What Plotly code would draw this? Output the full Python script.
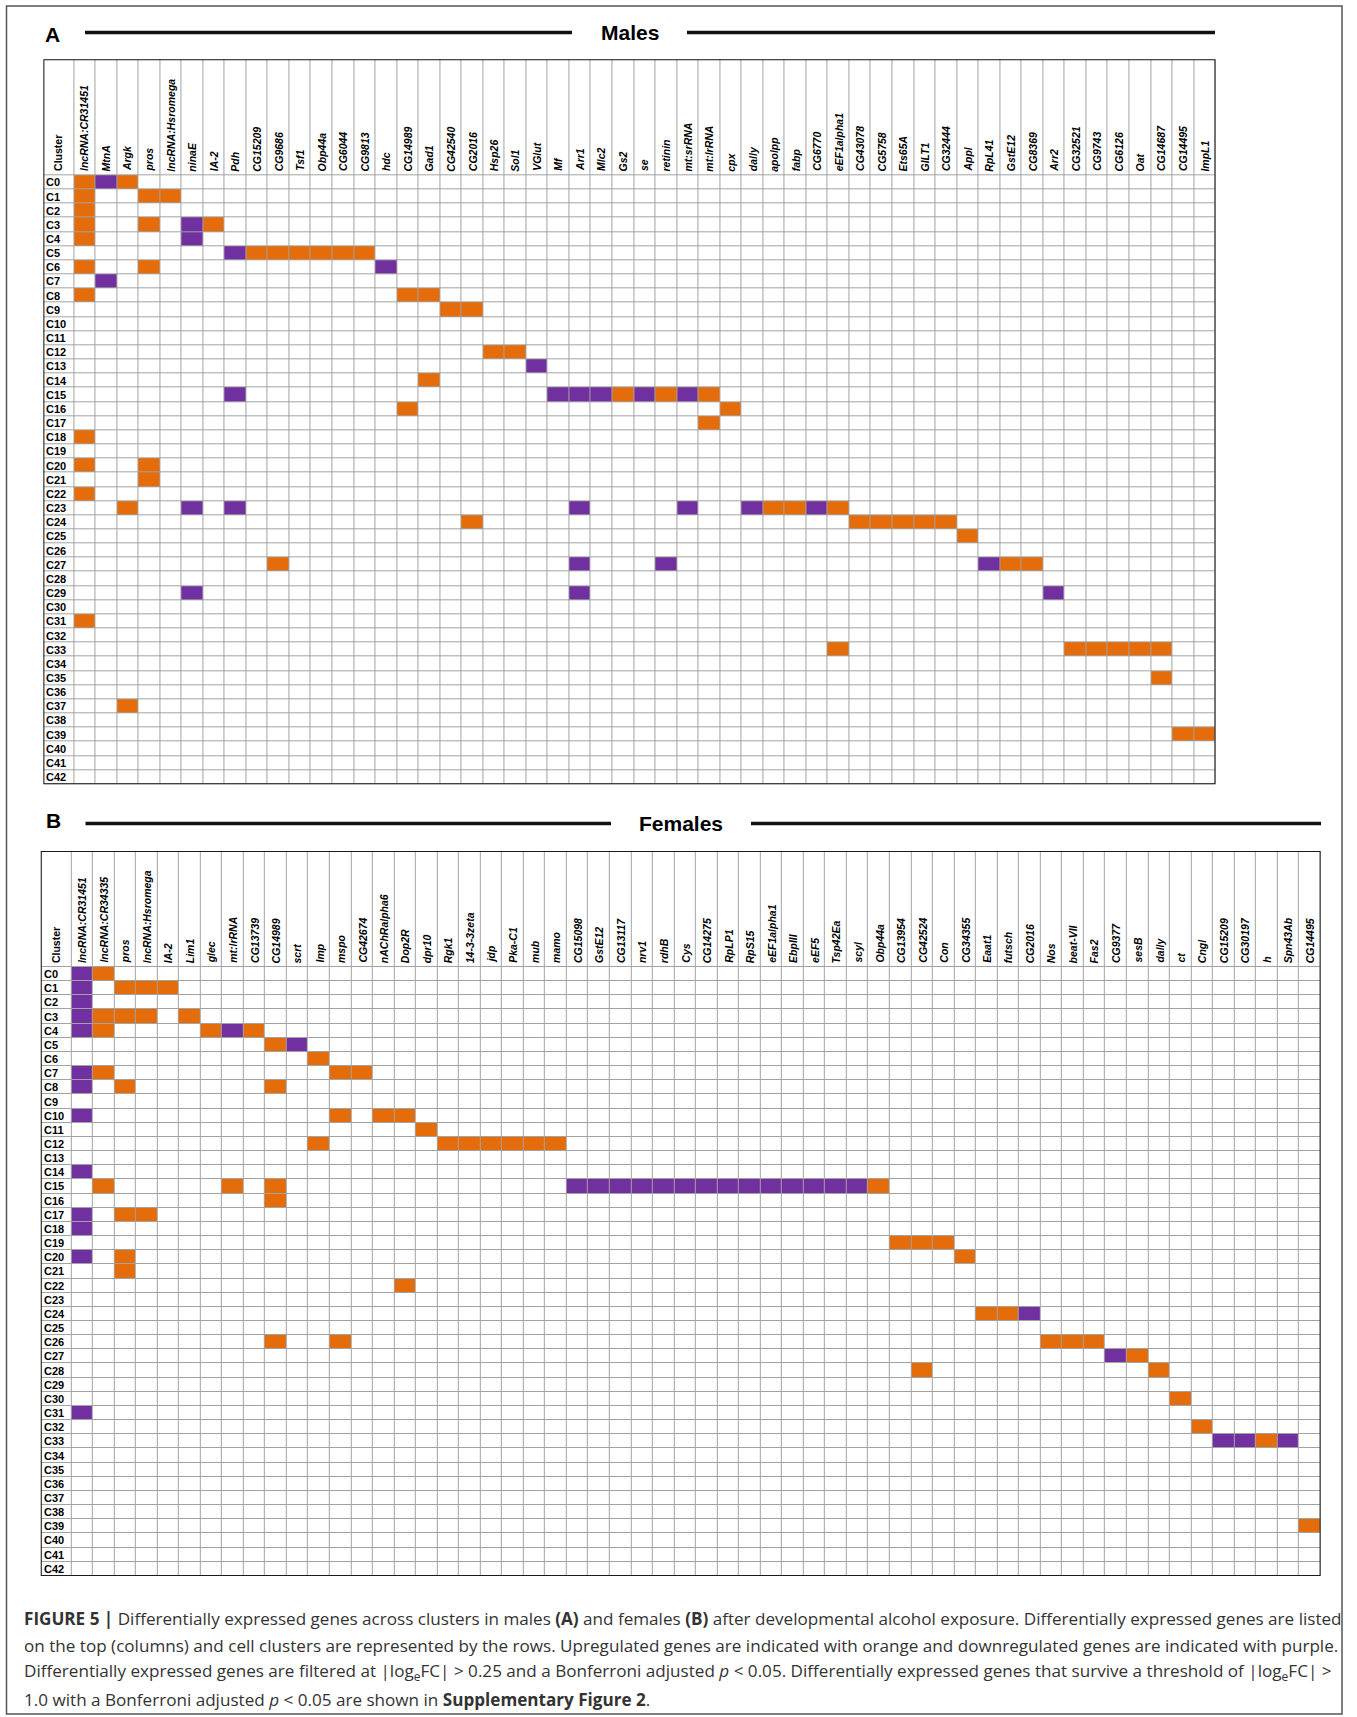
import plotly.graph_objects as go

# ---------------------------------------------------------------- data
clusters = [f"C{i}" for i in range(43)]

male_genes = [
    "lncRNA:CR31451", "MtnA", "Argk", "pros", "lncRNA:Hsromega", "ninaE", "IA-2", "Pdh",
    "CG15209", "CG9686", "Tsf1", "Obp44a", "CG6044", "CG9813", "hdc", "CG14989", "Gad1",
    "CG42540", "CG2016", "Hsp26", "Sol1", "VGlut", "Mf", "Arr1", "Mlc2", "Gs2", "se",
    "retinin", "mt:srRNA", "mt:lrRNA", "cpx", "dally", "apolpp", "fabp", "CG6770",
    "eEF1alpha1", "CG43078", "CG5758", "Ets65A", "GILT1", "CG32444", "Appl", "RpL41",
    "GstE12", "CG8369", "Arr2", "CG32521", "CG9743", "CG6126", "Oat", "CG14687",
    "CG14495", "ImpL1",
]

male_up = {
    "C0": ["lncRNA:CR31451", "Argk"],
    "C1": ["lncRNA:CR31451", "pros", "lncRNA:Hsromega"],
    "C2": ["lncRNA:CR31451"],
    "C3": ["lncRNA:CR31451", "pros", "IA-2"],
    "C4": ["lncRNA:CR31451"],
    "C5": ["CG15209", "CG9686", "Tsf1", "Obp44a", "CG6044", "CG9813"],
    "C6": ["lncRNA:CR31451", "pros"],
    "C8": ["lncRNA:CR31451", "CG14989", "Gad1"],
    "C9": ["CG42540", "CG2016"],
    "C12": ["Hsp26", "Sol1"],
    "C14": ["Gad1"],
    "C15": ["Gs2", "retinin", "mt:lrRNA"],
    "C16": ["CG14989", "cpx"],
    "C17": ["mt:lrRNA"],
    "C18": ["lncRNA:CR31451"],
    "C20": ["lncRNA:CR31451", "pros"],
    "C21": ["pros"],
    "C22": ["lncRNA:CR31451"],
    "C23": ["Argk", "apolpp", "fabp", "eEF1alpha1"],
    "C24": ["CG2016", "CG43078", "CG5758", "Ets65A", "GILT1", "CG32444"],
    "C25": ["Appl"],
    "C27": ["CG9686", "GstE12", "CG8369"],
    "C31": ["lncRNA:CR31451"],
    "C33": ["eEF1alpha1", "CG32521", "CG9743", "CG6126", "Oat", "CG14687"],
    "C35": ["CG14687"],
    "C37": ["Argk"],
    "C39": ["CG14495", "ImpL1"],
}

male_down = {
    "C0": ["MtnA"],
    "C3": ["ninaE"],
    "C4": ["ninaE"],
    "C5": ["Pdh"],
    "C6": ["hdc"],
    "C7": ["MtnA"],
    "C13": ["VGlut"],
    "C15": ["Pdh", "Mf", "Arr1", "Mlc2", "se", "mt:srRNA"],
    "C23": ["ninaE", "Pdh", "Arr1", "mt:srRNA", "dally", "CG6770"],
    "C27": ["Arr1", "retinin", "RpL41"],
    "C29": ["ninaE", "Arr1", "Arr2"],
}

female_genes = [
    "lncRNA:CR31451", "lncRNA:CR34335", "pros", "lncRNA:Hsromega", "IA-2", "Lim1", "glec",
    "mt:lrRNA", "CG13739", "CG14989", "scrt", "Imp", "mspo", "CG42674", "nAChRalpha6",
    "Dop2R", "dpr10", "Rgk1", "14-3-3zeta", "jdp", "Pka-C1", "mub", "mamo", "CG15098",
    "GstE12", "CG13117", "nrv1", "rdhB", "Cys", "CG14275", "RpLP1", "RpS15", "eEF1alpha1",
    "EbpIII", "eEF5", "Tsp42Ea", "scyl", "Obp44a", "CG13954", "CG42524", "Con", "CG34355",
    "Eaat1", "futsch", "CG2016", "Nos", "beat-VII", "Fas2", "CG9377", "sesB", "dally", "ct",
    "Cngl", "CG15209", "CG30197", "h", "Spn43Ab", "CG14495",
]

female_up = {
    "C0": ["lncRNA:CR34335"],
    "C1": ["pros", "lncRNA:Hsromega", "IA-2"],
    "C3": ["lncRNA:CR34335", "pros", "lncRNA:Hsromega", "Lim1"],
    "C4": ["lncRNA:CR34335", "glec", "CG13739"],
    "C5": ["CG14989"],
    "C6": ["Imp"],
    "C7": ["lncRNA:CR34335", "mspo", "CG42674"],
    "C8": ["pros", "CG14989"],
    "C10": ["mspo", "nAChRalpha6", "Dop2R"],
    "C11": ["dpr10"],
    "C12": ["Imp", "Rgk1", "14-3-3zeta", "jdp", "Pka-C1", "mub", "mamo"],
    "C15": ["lncRNA:CR34335", "mt:lrRNA", "CG14989", "Obp44a"],
    "C16": ["CG14989"],
    "C17": ["pros", "lncRNA:Hsromega"],
    "C19": ["CG13954", "CG42524", "Con"],
    "C20": ["pros", "CG34355"],
    "C21": ["pros"],
    "C22": ["Dop2R"],
    "C24": ["Eaat1", "futsch"],
    "C26": ["CG14989", "mspo", "Nos", "beat-VII", "Fas2"],
    "C27": ["sesB"],
    "C28": ["CG42524", "dally"],
    "C30": ["ct"],
    "C32": ["Cngl"],
    "C33": ["h"],
    "C39": ["CG14495"],
}

female_down = {
    "C0": ["lncRNA:CR31451"],
    "C1": ["lncRNA:CR31451"],
    "C2": ["lncRNA:CR31451"],
    "C3": ["lncRNA:CR31451"],
    "C4": ["lncRNA:CR31451", "mt:lrRNA"],
    "C5": ["scrt"],
    "C7": ["lncRNA:CR31451"],
    "C8": ["lncRNA:CR31451"],
    "C10": ["lncRNA:CR31451"],
    "C14": ["lncRNA:CR31451"],
    "C15": ["CG15098", "GstE12", "CG13117", "nrv1", "rdhB", "Cys", "CG14275", "RpLP1",
            "RpS15", "eEF1alpha1", "EbpIII", "eEF5", "Tsp42Ea", "scyl"],
    "C17": ["lncRNA:CR31451"],
    "C18": ["lncRNA:CR31451"],
    "C20": ["lncRNA:CR31451"],
    "C24": ["CG2016"],
    "C27": ["CG9377"],
    "C31": ["lncRNA:CR31451"],
    "C33": ["CG15209", "CG30197", "Spn43Ab"],
}

caption_lines = [
    "<b>FIGURE 5 |</b> Differentially expressed genes across clusters in males <b>(A)</b> and "
    "females <b>(B)</b> after developmental alcohol exposure. Differentially expressed genes are listed",
    "on the top (columns) and cell clusters are represented by the rows. Upregulated genes are "
    "indicated with orange and downregulated genes are indicated with purple.",
    "Differentially expressed genes are filtered at |log<sub>e</sub>FC| &gt; 0.25 and a Bonferroni "
    "adjusted <i>p</i> &lt; 0.05. Differentially expressed genes that survive a threshold of "
    "|log<sub>e</sub>FC| &gt;",
    "1.0 with a Bonferroni adjusted <i>p</i> &lt; 0.05 are shown in <b>Supplementary Figure 2</b>.",
]

# ---------------------------------------------------------------- styling
W, H = 1357, 1717
CELL_W = 21.54      # px per gene column
ROW_H = 14.16       # px per cluster row
CLUSTER_W = 30.5    # px of the "Cluster" column
HEADER_H = 116.0    # px of the gene-name header row
ORANGE = "#E46C0A"
PURPLE = "#7030A0"
GRID = "#a2a2a2"
FONT = "Liberation Sans, Arial, sans-serif"
CAPTION_FONT = "Open Sans, Noto Sans, sans-serif"

cw = CLUSTER_W / CELL_W   # cluster column width in column units
hh = HEADER_H / ROW_H     # header height in row units


def build_z(genes, up, down):
    z = [[0] * (len(genes) + 1) for _ in range(len(clusters) + 1)]
    for sign, table in ((1, up), (-1, down)):
        for cl, gl in table.items():
            r = clusters.index(cl) + 1
            for g in gl:
                z[r][genes.index(g) + 1] = sign
    return z


fig = go.Figure()
annotations = []
shapes = []

panels = [
    # genes, up, down, left px, top px, letter, title, rule/title x px, title y px, letter x/y px
    (male_genes, male_up, male_down, 43.4, 59.3, "A", "Males", (85, 572, 630, 687, 1215), 32.5, (52, 35)),
    (female_genes, female_up, female_down, 40.8, 851.0, "B", "Females", (85.5, 611, 681, 751, 1321), 823.5, (53.5, 821)),
]

colorscale = [[0.0, PURPLE], [0.333, PURPLE], [0.333, "white"], [0.667, "white"],
              [0.667, ORANGE], [1.0, ORANGE]]

for k, (genes, up, down, left, top, letter, title, tl, ty, lpos) in enumerate(panels):
    n = len(genes)
    sfx = "" if k == 0 else str(k + 1)
    xref, yref = "x" + sfx, "y" + sfx
    x_edges = [-0.5 - cw] + [i - 0.5 for i in range(n + 1)]
    y_edges = [-0.5 - hh] + [i - 0.5 for i in range(len(clusters) + 1)]

    fig.add_trace(go.Heatmap(
        z=build_z(genes, up, down), x=x_edges, y=y_edges,
        zmin=-1, zmax=1, colorscale=colorscale, showscale=False,
        xgap=1, ygap=1, hoverinfo="skip", xaxis=xref, yaxis=yref,
    ))

    right = left + CLUSTER_W + n * CELL_W
    bottom = top + HEADER_H + len(clusters) * ROW_H
    ax_common = dict(showgrid=False, zeroline=False, showticklabels=False, ticks="",
                     showline=False, fixedrange=True)
    fig.layout["xaxis" + sfx] = dict(domain=[left / W, right / W],
                                     range=[x_edges[0], x_edges[-1]], anchor=yref, **ax_common)
    fig.layout["yaxis" + sfx] = dict(domain=[1 - bottom / H, 1 - top / H],
                                     range=[y_edges[-1], y_edges[0]], anchor=xref, **ax_common)

    # table border
    shapes.append(dict(type="rect", xref=xref, yref=yref, x0=x_edges[0], x1=x_edges[-1],
                       y0=y_edges[0], y1=y_edges[-1], line=dict(color="#1a1a1a", width=2),
                       layer="above"))

    # gene names (rotated, reading upward)
    for i, g in enumerate(genes):
        annotations.append(dict(x=i, y=-0.5, xref=xref, yref=yref, text=g, textangle=-90,
                                showarrow=False, xanchor="center", yanchor="bottom", yshift=2,
                                font=dict(family=FONT, size=10.5, color="black",
                                          weight="bold", style="italic")))
    annotations.append(dict(x=-0.5 - cw / 2, y=-0.5, xref=xref, yref=yref, text="Cluster",
                            textangle=-90, showarrow=False, xanchor="center", yanchor="bottom",
                            yshift=2, font=dict(family=FONT, size=10.5, color="black", weight="bold")))
    # cluster row names
    for r, cl in enumerate(clusters):
        annotations.append(dict(x=x_edges[0], y=r, xref=xref, yref=yref, text=cl,
                                showarrow=False, xanchor="left", yanchor="middle", xshift=1,
                                font=dict(family=FONT, size=11, color="black", weight="bold")))

    # panel letter, title and rules
    annotations.append(dict(x=lpos[0] / W, y=1 - lpos[1] / H, xref="paper", yref="paper",
                            text=letter, showarrow=False, xanchor="center", yanchor="middle",
                            font=dict(family=FONT, size=21, color="black", weight="bold")))
    annotations.append(dict(x=tl[2] / W, y=1 - ty / H, xref="paper", yref="paper", text=title,
                            showarrow=False, xanchor="center", yanchor="middle",
                            font=dict(family=FONT, size=21, color="black", weight="bold")))
    for x0, x1 in ((tl[0], tl[1]), (tl[3], tl[4])):
        shapes.append(dict(type="line", xref="paper", yref="paper", x0=x0 / W, x1=x1 / W,
                           y0=1 - ty / H, y1=1 - ty / H, line=dict(color="#111111", width=3.5)))

# caption
for j, line in enumerate(caption_lines):
    annotations.append(dict(x=22 / W, y=1 - (1618 + 27 * j) / H, xref="paper", yref="paper",
                            text=line, showarrow=False, xanchor="left", yanchor="middle",
                            align="left", font=dict(family=CAPTION_FONT, size=17.1, color="#333333")))

# outer frame of the figure
shapes.append(dict(type="rect", xref="paper", yref="paper", x0=6.5 / W, x1=1342 / W,
                   y0=1 - 1714 / H, y1=1 - 6 / H, line=dict(color="#555555", width=1.5)))

fig.update_layout(
    width=W, height=H, margin=dict(l=0, r=0, t=0, b=0),
    paper_bgcolor="white", plot_bgcolor=GRID,
    annotations=annotations, shapes=shapes, showlegend=False,
)

fig.write_html("out.html")
